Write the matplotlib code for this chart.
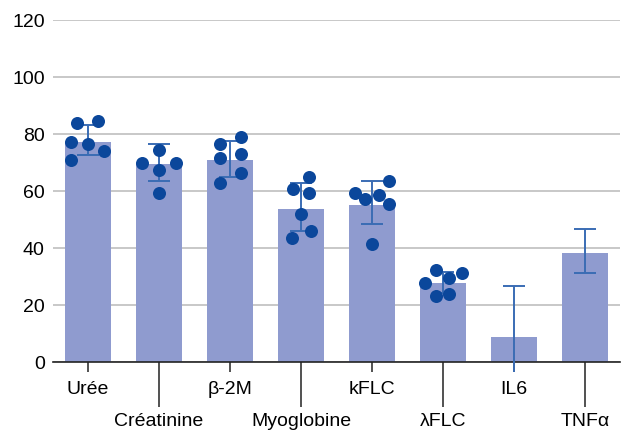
import matplotlib
matplotlib.use("Agg")
import matplotlib.pyplot as plt
import numpy as np

plt.rcParams['font.family'] = ['Liberation Sans', 'DejaVu Sans']

# data
labels = ['Urée', 'Créatinine', 'β-2M', 'Myoglobine', 'kFLC', 'λFLC', 'IL6', 'TNFα']
means = [77.2, 69.5, 71.0, 53.8, 55.2, 27.7, 8.8, 38.2]
err_low = [72.6, 63.5, 65.0, 46.0, 48.4, 24.2, -3.5, 31.2]
err_high = [83.2, 76.5, 77.5, 62.8, 63.5, 31.6, 26.7, 46.7]

# individual points (value, horizontal offset within the bar)
pts_uree = [83.9, 84.6, 77.2, 76.5, 74.0, 70.9]
off_uree = [-0.15, 0.14, -0.24, 0.0, 0.23, -0.24]
pts_crea = [74.4, 69.8, 69.8, 67.4, 59.3]
off_crea = [0.0, -0.24, 0.24, 0.0, 0.0]
pts_b2m = [76.5, 79.0, 71.6, 73.0, 66.3, 62.8]
off_b2m = [-0.14, 0.15, -0.14, 0.15, 0.15, -0.14]
pts_myo = [64.9, 60.7, 59.3, 51.9, 46.0, 43.5]
off_myo = [0.11, -0.11, 0.11, 0.0, 0.14, -0.13]
pts_kflc = [63.5, 59.3, 57.2, 58.6, 55.4, 41.4]
off_kflc = [0.24, -0.24, -0.1, 0.1, 0.24, 0.0]
pts_lflc = [32.3, 31.2, 27.7, 29.5, 23.2, 23.9]
off_lflc = [-0.1, 0.27, -0.25, 0.09, -0.1, 0.09]

points = [(0, pts_uree, off_uree), (1, pts_crea, off_crea), (2, pts_b2m, off_b2m),
          (3, pts_myo, off_myo), (4, pts_kflc, off_kflc), (5, pts_lflc, off_lflc)]

bar_col = '#8f9bcf'
err_col = '#3a6cb4'
dot_col = '#0b479b'

fig = plt.figure(figsize=(6.27, 4.30), dpi=100)
ax = fig.add_axes([0.0845, 0.1581, 0.904, 0.7953])

x = np.arange(len(labels))
ax.bar(x, means, width=0.65, color=bar_col, zorder=2)

# whiskers
lo = np.array(err_low)
hi = np.array(err_high)
ax.vlines(x, lo, hi, color=err_col, linewidth=1.4, zorder=3, clip_on=False)
# caps (no cap when the whisker runs below the axis)
ax.plot(x, hi, ls='none', marker='_', ms=16.5, mew=1.4, color=err_col, zorder=3)
keep = lo >= 0
ax.plot(x[keep], lo[keep], ls='none', marker='_', ms=16.5, mew=1.4, color=err_col, zorder=3)

for i, vals, offs in points:
    ax.scatter(i + np.array(offs), vals, s=88, color=dot_col, zorder=4, linewidths=0)

ax.set_ylim(0, 120)
ax.set_xlim(-0.493, 7.49)
ax.set_yticks(np.arange(0, 121, 20))
ax.grid(axis='y', color='#c8c8c8', linewidth=1.4, zorder=0)
ax.set_axisbelow(True)
for s in ['left', 'right', 'top']:
    ax.spines[s].set_visible(False)
ax.spines['bottom'].set_color('#222222')
ax.spines['bottom'].set_linewidth(1.2)
ax.spines['bottom'].set_zorder(2.5)

ax.tick_params(axis='y', length=0, pad=6, labelsize=14)

# alternate labels: even ones on short ticks, odd ones lower on long ticks
ax.set_xticks(x[::2])
ax.set_xticklabels(labels[::2])
ax.set_xticks(x[1::2], minor=True)
ax.set_xticklabels(labels[1::2], minor=True)
ax.tick_params(axis='x', which='major', length=7.2, width=1.2, color='#333333',
               pad=6.5, labelsize=14)
ax.tick_params(axis='x', which='minor', length=32.4, width=1.2, color='#333333',
               pad=4.5, labelsize=14)

fig.savefig('out.png', dpi=100)
